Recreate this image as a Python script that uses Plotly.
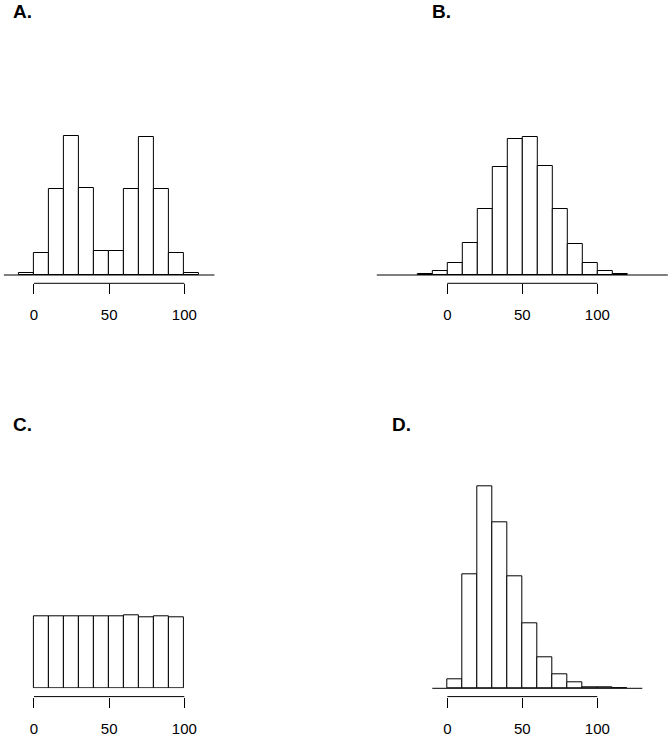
import plotly.graph_objects as go

a_left = [-10, 0, 10, 20, 30, 40, 50, 60, 70, 80, 90, 100]
a_pct = [0.3, 3.0, 12.0, 19.3, 12.1, 3.3, 3.3, 12.0, 19.1, 12.0, 3.1, 0.3]

b_left = [-20, -10, 0, 10, 20, 30, 40, 50, 60, 70, 80, 90, 100, 110]
b_pct = [0.1, 0.6, 1.7, 4.5, 9.2, 15.0, 18.9, 19.1, 15.1, 9.2, 4.3, 1.7, 0.5, 0.1]

c_left = [0, 10, 20, 30, 40, 50, 60, 70, 80, 90]
c_pct = [10.05, 9.95, 10.0, 10.0, 10.05, 10.05, 10.15, 9.9, 10.05, 9.9]

d_left = [0, 10, 20, 30, 40, 50, 60, 70, 80, 90, 100, 110]
d_pct = [1.3, 15.9, 28.0, 23.1, 15.6, 9.0, 4.3, 2.0, 0.8, 0.2, 0.1, 0.05]

tick_vals = [0, 50, 100]
tick_text = ["0", "50", "100"]
labels = ["A.", "B.", "C.", "D."]

W, H = 672, 736
binw = 10
ymax = 35

# panel geometry in page pixels: x-domain (left, right), baseline y, x range
panels = [
    dict(left=a_left, pct=a_pct, xd=(3.9, 214.4), base=275.0, xr=[-20, 120], base_line=True, lab=(13, 11)),
    dict(left=b_left, pct=b_pct, xd=(376.8, 667.8), base=275.0, xr=[-47, 147], base_line=True, lab=(432, 11)),
    dict(left=c_left, pct=c_pct, xd=(3.9, 214.4), base=688.3, xr=[-20, 120], base_line=False, lab=(13, 424)),
    dict(left=d_left, pct=d_pct, xd=(432.3, 642.3), base=688.3, xr=[-10, 130], base_line=True, lab=(392, 424)),
]

def px(v):
    return v / W

def py(v):
    return 1 - v / H

fig = go.Figure()
shapes = []
annots = []
ypix = ymax * 7.2

for i, p in enumerate(panels):
    n = "" if i == 0 else str(i + 1)
    xa, ya = "x" + n, "y" + n
    fig.add_trace(go.Bar(
        x=[l + binw / 2 for l in p["left"]], y=p["pct"], width=binw,
        marker=dict(color="white", line=dict(color="black", width=1)),
        xaxis=xa, yaxis=ya, showlegend=False, hoverinfo="skip",
        cliponaxis=False,
    ))
    axpos = py(p["base"] + 8.3)
    fig.layout["xaxis" + n] = dict(
        domain=[px(p["xd"][0]), px(p["xd"][1])], range=p["xr"],
        anchor="free", position=axpos,
        showgrid=False, zeroline=False, showline=False,
        ticks="outside", ticklen=10, tickwidth=1, tickcolor="black",
        tickvals=tick_vals, ticktext=tick_text, ticklabelstandoff=8,
        tickfont=dict(size=15, color="black"),
    )
    fig.layout["yaxis" + n] = dict(
        domain=[py(p["base"]), py(p["base"] - ypix)], range=[0, ymax],
        anchor=xa, visible=False,
    )
    # R-style axis line from first to last tick
    shapes.append(dict(type="line", xref=xa, yref="paper",
                       x0=min(tick_vals), x1=max(tick_vals), y0=axpos, y1=axpos,
                       line=dict(color="black", width=1)))
    if p["base_line"]:
        shapes.append(dict(type="line", xref=xa + " domain", yref="paper",
                           x0=0, x1=1, y0=py(p["base"]), y1=py(p["base"]),
                           line=dict(color="black", width=1)))
    annots.append(dict(text="<b>" + labels[i] + "</b>", xref="paper", yref="paper",
                       x=px(p["lab"][0] - 2), y=py(p["lab"][1]),
                       xanchor="left", yanchor="middle", showarrow=False,
                       font=dict(size=19, color="black")))

fig.update_layout(
    width=W, height=H, margin=dict(l=0, r=0, t=0, b=0),
    paper_bgcolor="white", plot_bgcolor="white",
    font=dict(family="Liberation Sans, Arial, sans-serif"),
    bargap=0, shapes=shapes, annotations=annots,
)

# drop the default 8px body margin so the figure fills the window
fig.write_html("out.html", config={"displayModeBar": False},
               post_script="document.body.style.margin='0';")
